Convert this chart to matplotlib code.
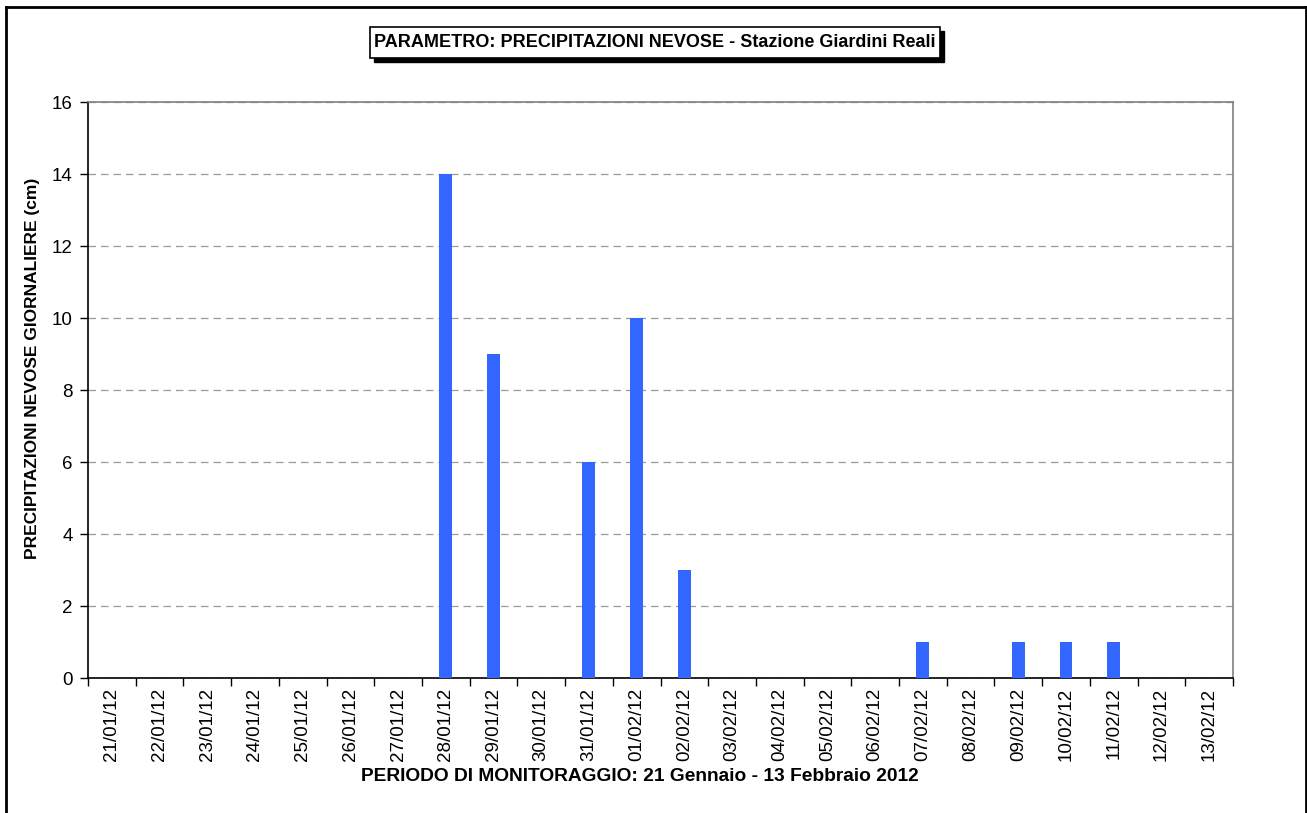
import matplotlib
matplotlib.use("Agg")
import matplotlib.pyplot as plt
import numpy as np
from matplotlib.patches import Rectangle
from matplotlib.lines import Line2D

plt.rcParams["font.family"] = ["Liberation Sans", "DejaVu Sans"]

# giorni di monitoraggio e neve fresca giornaliera (cm)
giorni = ["21/01/12", "22/01/12", "23/01/12", "24/01/12", "25/01/12", "26/01/12",
          "27/01/12", "28/01/12", "29/01/12", "30/01/12", "31/01/12", "01/02/12",
          "02/02/12", "03/02/12", "04/02/12", "05/02/12", "06/02/12", "07/02/12",
          "08/02/12", "09/02/12", "10/02/12", "11/02/12", "12/02/12", "13/02/12"]
neve_cm = [0, 0, 0, 0, 0, 0, 0, 14, 9, 0, 6, 10, 3, 0, 0, 0, 0, 1, 0, 1, 1, 1, 0, 0]
y_ticks = [0, 2, 4, 6, 8, 10, 12, 14, 16]

W, H = 1307, 813
fig = plt.figure(figsize=(W / 100, H / 100), dpi=100)
ax = fig.add_axes([88 / W, 1 - 678 / H, (1233 - 88) / W, (678 - 102) / H])

x = np.arange(len(giorni))
ax.bar(x, neve_cm, width=0.27, color="#3366FF", zorder=3)
ax.set_xlim(-0.5, len(giorni) - 0.5)
ax.set_ylim(0, 16)
ax.set_yticks(y_ticks)
ax.yaxis.grid(True, linestyle=(0, (6, 4)), color="#999999", lw=0.9, zorder=0)
ax.set_xticks(x)
ax.set_xticklabels(giorni, rotation=90, fontsize=13.5)
ax.tick_params(axis="x", length=0, pad=7)
ax.set_xticks(np.arange(len(giorni) + 1) - 0.5, minor=True)
ax.tick_params(axis="x", which="minor", length=6, width=1, color="black", direction="out")
ax.tick_params(axis="y", labelsize=13.5, length=6, width=1, direction="out", pad=5)
for s in ("left", "bottom"):
    ax.spines[s].set_color("black")
    ax.spines[s].set_linewidth(1.2)
for s in ("top", "right"):
    ax.spines[s].set_color("#808080")
    ax.spines[s].set_linewidth(1.2)

ax.set_ylabel("PRECIPITAZIONI NEVOSE GIORNALIERE (cm)", fontsize=12.5, fontweight="bold")
ax.yaxis.set_label_coords((40 - 88) / (1233 - 88), (678 - 368) / (678 - 102))
fig.text(640 / W, 1 - 776 / H, "PERIODO DI MONITORAGGIO: 21 Gennaio - 13 Febbraio 2012",
         ha="center", va="center", fontsize=13.8, fontweight="bold")

# titolo in riquadro con ombra
bx0, by0, bx1, by1 = 370, 27, 940, 58
fig.patches.append(Rectangle(((bx0 + 4) / W, 1 - (by1 + 4) / H), (bx1 - bx0) / W, (by1 - by0) / H,
                             transform=fig.transFigure, facecolor="black", edgecolor="black", zorder=1))
fig.patches.append(Rectangle((bx0 / W, 1 - by1 / H), (bx1 - bx0) / W, (by1 - by0) / H,
                             transform=fig.transFigure, facecolor="white", edgecolor="black", lw=1.2, zorder=2))
fig.text((bx0 + bx1) / 2 / W, 1 - (by0 + by1) / 2 / H,
         "PARAMETRO: PRECIPITAZIONI NEVOSE - Stazione Giardini Reali",
         ha="center", va="center", fontsize=13, fontweight="bold", zorder=3)

# cornice esterna
for xs, ys in (([6, 6], [7, 813]), ([6, 1306], [7, 7]), ([1306, 1306], [7, 813])):
    fig.lines.append(Line2D([v / W for v in xs], [1 - v / H for v in ys],
                            transform=fig.transFigure, color="black", lw=2))

fig.savefig("out.png", dpi=100)
